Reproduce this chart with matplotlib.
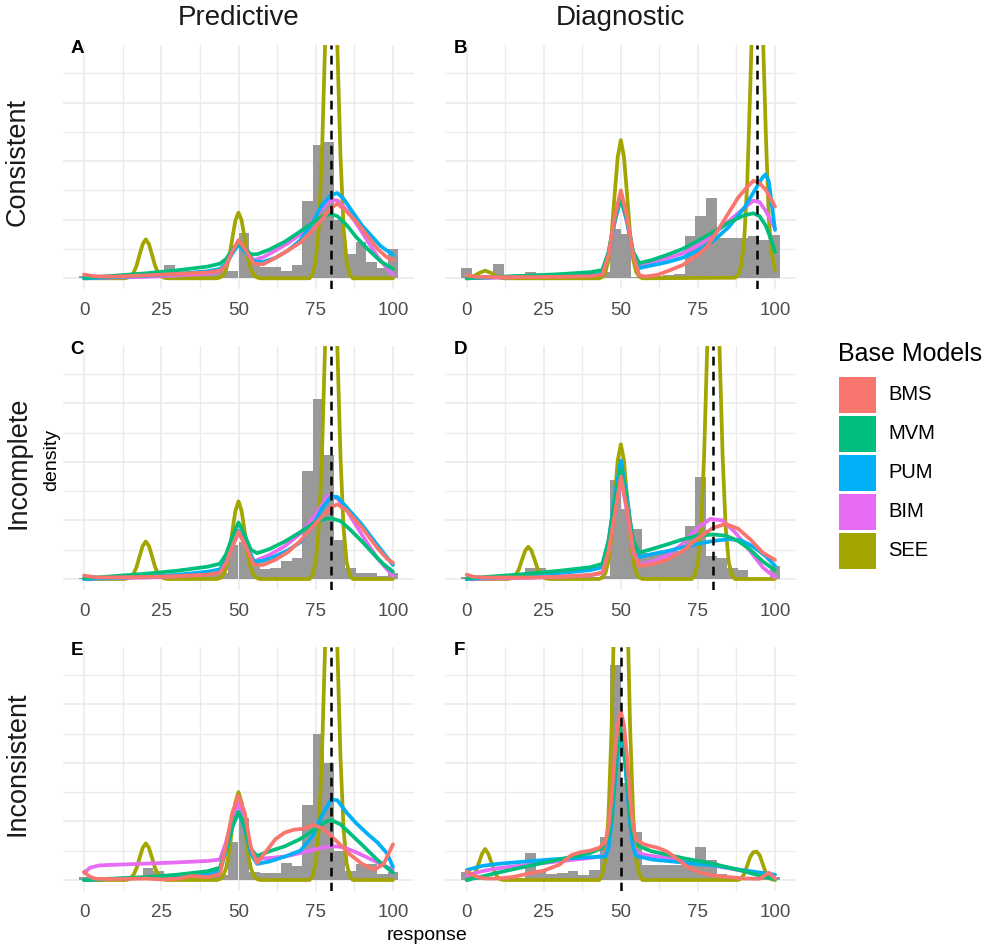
import matplotlib
matplotlib.use('Agg')
import matplotlib.pyplot as plt
from matplotlib.patches import Rectangle

plt.rcParams['font.family'] = ['Liberation Sans', 'DejaVu Sans']

# ---------------- data ----------------
models = ['BMS', 'MVM', 'PUM', 'BIM', 'SEE']
model_colors = ['#F8766D', '#00BF7D', '#00B0F6', '#E76BF3', '#A3A500']
col_titles = ['Predictive', 'Diagnostic']
row_titles = ['Consistent', 'Incomplete', 'Inconsistent']
panel_tags = ['A', 'B', 'C', 'D', 'E', 'F']
x_ticks = [0, 25, 50, 75, 100]
target_lines = [80, 94, 80, 80, 80, 50]

# histogram: 30 bins spanning 0..100 (bin centres at k*100/29)
n_bins = 30
A_hist = [0.08, 0.03, 0.03, 0.05, 0.05, 0.05, 0.10, 0.10, 0.45, 0.15, 0.20, 0.15, 0.20, 0.26, 0.26,
          1.56, 0.57, 0.40, 0.37, 0.26, 0.45, 2.64, 4.55, 4.66, 2.00, 0.83, 1.25, 0.57, 0.34, 0.99]
B_hist = [0.34, 0.12, 0.10, 0.48, 0.03, 0.05, 0.20, 0.05, 0.05, 0.05, 0.05, 0.05, 0.05, 0.20, 1.70,
          1.50, 0.05, 0.06, 0.08, 0.10, 0.15, 1.46, 2.13, 2.74, 1.37, 1.37, 1.37, 1.45, 1.30, 1.47]
C_hist = [0.05, 0.03, 0.03, 0.04, 0.04, 0.05, 0.05, 0.06, 0.06, 0.08, 0.08, 0.10, 0.12, 0.20, 1.15,
          1.25, 0.60, 0.34, 0.37, 0.62, 0.70, 3.70, 6.15, 4.23, 1.33, 0.37, 0.20, 0.20, 0.10, 0.22]
D_hist = [0.06, 0.04, 0.04, 0.04, 0.04, 0.05, 0.36, 0.36, 0.05, 0.05, 0.05, 0.06, 0.08, 0.10, 3.38,
          2.39, 1.70, 0.88, 0.90, 0.90, 0.95, 1.80, 3.47, 0.80, 0.73, 0.38, 0.30, 0.03, 0.05, 0.46]
E_hist = [0.10, 0.04, 0.04, 0.05, 0.05, 0.10, 0.40, 0.30, 0.08, 0.08, 0.10, 0.10, 0.17, 0.17, 1.30,
          2.10, 0.28, 0.25, 0.23, 0.57, 0.49, 2.56, 5.00, 4.00, 0.98, 0.30, 0.53, 0.53, 0.20, 0.26]
F_hist = [0.26, 0.11, 0.05, 0.05, 0.05, 0.06, 0.93, 0.30, 0.19, 0.25, 0.30, 0.17, 0.34, 1.48, 7.35,
          3.30, 1.63, 0.50, 0.50, 0.50, 0.50, 0.62, 1.14, 0.68, 0.20, 0.15, 0.10, 0.10, 0.10, 0.11]

# density curves: (response, density) points
A_BMS = [(0,0.13),(2,0.09),(5,0.06),(10,0.06),(20,0.10),(30,0.15),(40,0.20),(44,0.26),(46,0.45),(48,0.92),(50,1.30),
         (52,1.02),(55,0.50),(58,0.48),(62,0.70),(66,0.95),(70,1.22),(75,1.75),(78,2.15),(80,2.40),(82,2.55),(85,2.28),
         (88,1.95),(91,1.55),(95,1.00),(98,0.72),(100,0.62)]
A_MVM = [(0,0.02),(5,0.05),(10,0.09),(20,0.17),(30,0.27),(40,0.40),(44,0.50),(46,0.66),(48,0.98),(50,1.20),(52,1.02),
         (54,0.82),(56,0.82),(60,0.98),(65,1.25),(70,1.60),(75,1.98),(78,2.15),(80,2.19),(82,2.12),(85,1.82),(88,1.42),
         (92,0.98),(96,0.58),(100,0.32)]
A_PUM = [(0,0.0),(10,0.04),(20,0.09),(30,0.15),(40,0.24),(44,0.32),(46,0.50),(48,0.85),(50,1.15),(52,0.92),(55,0.58),
         (58,0.56),(62,0.70),(66,0.95),(70,1.30),(74,1.90),(77,2.50),(80,2.85),(82,2.91),(84,2.72),(87,2.25),(90,1.80),
         (93,1.45),(96,1.10),(100,0.80)]
A_BIM = [(0,0.0),(10,0.03),(20,0.05),(30,0.10),(40,0.16),(44,0.24),(46,0.45),(48,0.90),(50,1.20),(52,0.95),(55,0.62),
         (58,0.72),(62,0.95),(66,1.20),(70,1.50),(75,2.10),(78,2.50),(80,2.67),(82,2.66),(85,2.33),(88,1.90),(91,1.40),
         (95,0.74),(98,0.35),(100,0.12)]
A_SEE = [(0,0),(13,0),(14,0.02),(15,0.06),(16,0.18),(17,0.43),(18,0.81),(19,1.17),(20,1.33),(21,1.17),(22,0.81),
         (23,0.43),(24,0.18),(25,0.06),(26,0.02),(27,0),(43,0),(44,0.03),(45,0.10),(46,0.30),(47,0.73),(48,1.36),
         (49,1.98),(50,2.24),(51,1.98),(52,1.36),(53,0.73),(54,0.30),(55,0.10),(56,0.03),(57,0),(73,0),(74,0.14),
         (75,0.57),(76,1.75),(77,4.2),(78,7.9),(79,11.4),(80,13),(81,11.4),(82,7.9),(83,4.2),(84,1.75),(85,0.57),
         (86,0.14),(87,0),(100,0)]

B_BMS = [(0,0.10),(3,0.05),(10,0.04),(20,0.04),(30,0.05),(40,0.07),(44,0.12),(46,0.8),(48,2.1),(50,3.0),(52,2.1),
         (54,0.8),(56,0.10),(58,0.06),(62,0.12),(66,0.28),(70,0.45),(75,0.80),(78,1.08),(83,1.90),(88,2.75),(91,3.12),
         (93,3.33),(95,3.25),(97,3.02),(99,2.65),(100,2.45)]
B_MVM = [(0,0.0),(5,0.03),(10,0.05),(20,0.09),(30,0.14),(40,0.21),(44,0.28),(46,0.9),(48,2.0),(50,2.78),(52,2.0),
         (54,0.9),(56,0.52),(60,0.62),(65,0.80),(70,1.00),(75,1.28),(80,1.58),(85,1.90),(90,2.15),(93,2.22),(95,2.12),
         (97,1.80),(99,1.25),(100,0.90)]
B_PUM = [(0,0.0),(10,0.04),(20,0.08),(30,0.12),(40,0.18),(44,0.24),(46,0.85),(48,1.95),(50,2.75),(52,1.95),(54,0.85),
         (56,0.35),(60,0.44),(65,0.55),(70,0.70),(75,0.95),(80,1.28),(85,1.75),(90,2.40),(94,3.10),(96,3.45),(97,3.55),
         (98,3.30),(99,2.50),(100,1.65)]
B_BIM = [(0,0.0),(10,0.02),(20,0.05),(30,0.08),(40,0.14),(44,0.20),(46,0.8),(48,1.9),(50,2.75),(52,1.9),(54,0.8),
         (56,0.42),(60,0.55),(65,0.68),(70,0.85),(75,1.12),(80,1.50),(85,1.95),(90,2.40),(93,2.65),(95,2.60),(97,2.30),
         (99,1.90),(100,1.70)]
B_SEE = [(0,0.02),(2,0.05),(4,0.18),(6,0.26),(8,0.18),(10,0.04),(12,0),(43,0),(44,0.05),(45,0.21),(46,0.64),
         (47,1.51),(48,2.88),(49,4.15),(50,4.72),(51,4.15),(52,2.88),(53,1.51),(54,0.64),(55,0.21),(56,0.05),(57,0),
         (87,0.02),(88,0.10),(89,0.40),(90,1.3),(91,3.3),(92,6.6),(93,10.5),(94,13),(95,11.5),(96,8.6),(97,5.0),
         (98,2.0),(99,0.8),(100,0.28)]

C_BMS = [(0,0.12),(2,0.08),(5,0.05),(20,0.07),(30,0.10),(40,0.15),(44,0.22),(46,0.55),(48,1.10),(50,1.62),(52,1.20),
         (55,0.48),(58,0.48),(62,0.66),(66,0.92),(70,1.30),(75,1.90),(80,2.45),(82,2.55),(85,2.35),(90,1.75),(95,1.05),
         (98,0.70),(100,0.55)]
C_MVM = [(0,0.03),(5,0.06),(10,0.10),(20,0.18),(30,0.28),(40,0.42),(44,0.52),(46,0.85),(48,1.45),(50,1.93),(52,1.50),
         (54,1.00),(56,0.88),(60,1.02),(65,1.28),(70,1.60),(75,1.95),(78,2.05),(80,2.07),(83,1.98),(86,1.70),(90,1.28),
         (94,0.82),(97,0.50),(100,0.25)]
C_PUM = [(0,0.0),(10,0.04),(20,0.08),(30,0.14),(40,0.25),(44,0.33),(46,0.70),(48,1.20),(50,1.65),(52,1.30),(55,0.60),
         (58,0.62),(62,0.78),(66,0.98),(70,1.25),(74,1.80),(77,2.40),(80,2.82),(82,2.80),(85,2.45),(90,1.85),(95,1.15),
         (98,0.75),(100,0.48)]
C_BIM = [(0,0.0),(10,0.03),(20,0.05),(30,0.09),(40,0.16),(44,0.24),(46,0.55),(48,1.10),(50,1.60),(52,1.20),(55,0.60),
         (60,0.82),(65,1.12),(70,1.55),(75,2.20),(79,2.85),(82,2.75),(85,2.35),(90,1.50),(95,0.70),(100,0.10)]
C_SEE = [(0,0),(13,0),(14,0.02),(15,0.06),(16,0.17),(17,0.41),(18,0.78),(19,1.13),(20,1.28),(21,1.13),(22,0.78),
         (23,0.41),(24,0.17),(25,0.06),(26,0.02),(27,0),(43,0),(44,0.03),(45,0.12),(46,0.36),(47,0.85),(48,1.62),
         (49,2.33),(50,2.65),(51,2.33),(52,1.62),(53,0.85),(54,0.36),(55,0.12),(56,0.03),(57,0),(73,0),(74,0.14),
         (75,0.57),(76,1.75),(77,4.2),(78,7.9),(79,11.4),(80,13),(81,11.4),(82,7.9),(83,4.2),(84,1.75),(85,0.57),
         (86,0.14),(87,0),(100,0)]

D_BMS = [(0,0.15),(2,0.08),(5,0.05),(20,0.05),(30,0.08),(40,0.14),(44,0.22),(46,0.95),(48,2.20),(50,3.50),(52,2.40),
         (54,1.00),(56,0.45),(60,0.50),(65,0.65),(70,0.95),(75,1.40),(80,1.75),(84,1.88),(88,1.72),(92,1.35),(96,0.90),
         (100,0.65)]
D_MVM = [(0,0.03),(5,0.06),(10,0.10),(20,0.18),(30,0.28),(40,0.40),(44,0.52),(46,1.30),(48,2.60),(50,3.75),(52,2.60),
         (54,1.30),(56,0.90),(60,1.02),(65,1.18),(70,1.35),(75,1.48),(80,1.52),(84,1.48),(88,1.30),(92,1.00),(96,0.60),
         (100,0.30)]
D_PUM = [(0,0.0),(10,0.06),(20,0.12),(30,0.20),(40,0.30),(44,0.40),(46,1.30),(48,2.80),(50,4.05),(52,2.80),(54,1.20),
         (56,0.75),(60,0.85),(65,0.95),(70,1.08),(75,1.20),(80,1.30),(85,1.36),(89,1.32),(93,1.10),(97,0.78),(100,0.45)]
D_BIM = [(0,0.0),(10,0.02),(20,0.04),(30,0.07),(40,0.12),(44,0.20),(46,1.00),(48,2.30),(50,3.45),(52,2.30),(54,0.90),
         (56,0.50),(60,0.58),(65,0.80),(70,1.20),(75,1.75),(79,2.05),(83,2.00),(87,1.60),(92,0.95),(96,0.40),(100,0.05)]
D_SEE = [(0,0),(13,0),(14,0.01),(15,0.05),(16,0.15),(17,0.35),(18,0.67),(19,0.97),(20,1.10),(21,0.97),(22,0.67),
         (23,0.35),(24,0.15),(25,0.05),(26,0.01),(27,0),(43,0),(44,0.05),(45,0.20),(46,0.62),(47,1.47),(48,2.80),
         (49,4.05),(50,4.60),(51,4.05),(52,2.80),(53,1.47),(54,0.62),(55,0.20),(56,0.05),(57,0),(73,0),(74,0.14),
         (75,0.57),(76,1.75),(77,4.2),(78,7.9),(79,11.4),(80,13),(81,11.4),(82,7.9),(83,4.2),(84,1.75),(85,0.57),
         (86,0.14),(87,0),(100,0)]

E_BMS = [(0,0.28),(2,0.10),(4,0.04),(10,0.03),(20,0.05),(25,0.02),(30,0.04),(35,0.14),(40,0.10),(44,0.20),(46,1.20),
         (48,2.30),(50,2.88),(52,2.30),(54,1.10),(56,0.58),(58,0.85),(62,1.40),(65,1.62),(68,1.72),(71,1.75),(74,1.88),
         (77,1.78),(80,1.50),(83,1.20),(86,0.88),(90,0.55),(94,0.35),(97,0.55),(100,1.22)]
E_MVM = [(0,0.0),(5,0.03),(10,0.05),(20,0.10),(30,0.18),(40,0.30),(44,0.42),(46,1.10),(48,1.85),(50,2.33),(52,1.85),
         (54,1.05),(56,0.82),(60,0.98),(65,1.15),(70,1.40),(75,1.75),(78,1.98),(80,2.05),(83,1.90),(86,1.60),(90,1.20),
         (95,0.68),(100,0.25)]
E_PUM = [(0,0.0),(10,0.04),(20,0.08),(30,0.13),(40,0.20),(44,0.30),(46,1.00),(48,1.80),(50,2.30),(52,1.80),(54,0.90),
         (56,0.55),(60,0.63),(65,0.80),(70,1.00),(74,1.50),(77,2.20),(80,2.75),(82,2.72),(85,2.30),(88,1.95),(92,1.55),
         (95,1.28),(98,0.92),(100,0.45)]
E_BIM = [(0,0.25),(2,0.42),(5,0.50),(10,0.52),(20,0.56),(30,0.60),(40,0.65),(44,0.70),(46,1.30),(48,2.10),(50,2.60),
         (52,2.10),(54,1.10),(56,0.72),(60,0.75),(65,0.80),(70,0.92),(75,1.05),(80,1.16),(84,1.12),(88,0.95),(92,0.75),
         (96,0.55),(100,0.35)]
E_SEE = [(0,0),(13,0),(14,0.01),(15,0.06),(16,0.17),(17,0.40),(18,0.76),(19,1.10),(20,1.25),(21,1.10),(22,0.76),
         (23,0.40),(24,0.17),(25,0.06),(26,0.01),(27,0),(43,0),(44,0.03),(45,0.13),(46,0.41),(47,0.96),(48,1.82),
         (49,2.65),(50,3.00),(51,2.65),(52,1.82),(53,0.96),(54,0.41),(55,0.13),(56,0.03),(57,0),(73,0),(74,0.14),
         (75,0.57),(76,1.75),(77,4.2),(78,7.9),(79,11.4),(80,13),(81,11.4),(82,7.9),(83,4.2),(84,1.75),(85,0.57),
         (86,0.14),(87,0),(100,0)]

F_BMS = [(0,0.30),(3,0.12),(6,0.05),(10,0.05),(15,0.10),(20,0.22),(25,0.32),(30,0.52),(34,0.85),(37,0.95),(40,1.00),
         (43,1.10),(45,1.30),(46,1.80),(47,2.80),(48,4.20),(49,5.30),(50,5.75),(51,5.30),(52,4.20),(53,2.80),(54,1.80),
         (55,1.35),(58,1.20),(62,1.10),(65,0.97),(68,0.74),(72,0.42),(76,0.25),(80,0.15),(85,0.10),(90,0.05),(95,0.04),
         (98,0.25),(100,0.05)]
F_MVM = [(0,0.0),(5,0.12),(10,0.25),(20,0.48),(30,0.70),(40,0.92),(44,1.10),(46,1.50),(47,2.20),(48,3.50),(49,4.70),
         (50,5.20),(51,4.70),(52,3.50),(53,2.20),(54,1.50),(56,1.15),(60,0.98),(70,0.75),(80,0.55),(90,0.30),(96,0.12),
         (100,0.03)]
F_PUM = [(0,0.34),(5,0.48),(10,0.55),(20,0.64),(30,0.72),(40,0.78),(45,0.80),(46,1.10),(47,1.90),(48,3.20),(49,4.40),
         (50,4.90),(51,4.40),(52,3.20),(53,1.90),(54,1.10),(55,0.82),(60,0.70),(70,0.60),(80,0.50),(90,0.33),(100,0.18)]
F_BIM = [(0,0.15),(5,0.30),(10,0.40),(20,0.52),(30,0.64),(40,0.75),(45,0.85),(46,1.20),(47,2.00),(48,3.30),(49,4.50),
         (50,5.00),(51,4.50),(52,3.30),(53,2.00),(54,1.20),(55,0.92),(60,0.82),(70,0.70),(80,0.50),(90,0.30),(100,0.05)]
F_SEE = [(0,0),(1,0.02),(2,0.10),(3,0.30),(4,0.60),(5,0.90),(6,1.06),(7,0.90),(8,0.60),(9,0.30),(10,0.10),(11,0.02),
         (12,0),(43,0),(44,0.20),(45,0.72),(46,2.2),(47,5.2),(48,9.8),(49,14.2),(50,16),(51,14.2),(52,9.8),(53,5.2),
         (54,2.2),(55,0.72),(56,0.20),(57,0),(88,0),(89,0.05),(90,0.20),(91,0.50),(92,0.80),(93,0.95),(94,0.97),
         (95,0.85),(96,0.55),(97,0.25),(98,0.08),(99,0.02),(100,0)]

hists = [A_hist, B_hist, C_hist, D_hist, E_hist, F_hist]
curves = [
    [A_BMS, A_MVM, A_PUM, A_BIM, A_SEE],
    [B_BMS, B_MVM, B_PUM, B_BIM, B_SEE],
    [C_BMS, C_MVM, C_PUM, C_BIM, C_SEE],
    [D_BMS, D_MVM, D_PUM, D_BIM, D_SEE],
    [E_BMS, E_MVM, E_PUM, E_BIM, E_SEE],
    [F_BMS, F_MVM, F_PUM, F_BIM, F_SEE],
]

# ---------------- layout ----------------
W, H = 991, 948
fig = plt.figure(figsize=(W / 100, H / 100), dpi=100)

col_px = [(62.7, 414.3), (445.4, 796.3)]
row_base = [278.3, 579.0, 880.0]
unit_px = 29.29
y_lo, y_hi = -0.38, 7.96
bin_w = 100 / (n_bins - 1)
bin_centers = [k * bin_w for k in range(n_bins)]

TXT = '#4D4D4D'
GRID = '#EBEBEB'

for i in range(6):
    r, c = divmod(i, 2)
    left, right = col_px[c]
    top = row_base[r] - y_hi * unit_px
    bottom = row_base[r] - y_lo * unit_px
    ax = fig.add_axes([left / W, 1 - bottom / H, (right - left) / W, (bottom - top) / H])
    ax.set_xlim(-6.9, 106.9)
    ax.set_ylim(y_lo, y_hi)
    for s in ax.spines.values():
        s.set_visible(False)
    ax.set_xticks(x_ticks)
    ax.set_xticklabels([str(t) for t in x_ticks])
    ax.set_xticks([12.5, 37.5, 62.5, 87.5], minor=True)
    ax.set_yticks([0, 2, 4, 6])
    ax.set_yticks([1, 3, 5, 7], minor=True)
    ax.set_yticklabels([])
    ax.tick_params(which='both', length=0)
    ax.tick_params(axis='x', labelsize=13.5, labelcolor=TXT, pad=9)
    ax.grid(which='major', color=GRID, lw=1.2)
    ax.grid(which='minor', color=GRID, lw=1.0)
    ax.set_axisbelow(True)

    ax.bar(bin_centers, hists[i], width=bin_w, color='#999999', edgecolor='none', zorder=2)

    for m in [4, 3, 2, 1, 0]:
        pts = curves[i][m]
        ax.plot([p[0] for p in pts], [p[1] for p in pts], color=model_colors[m], lw=2.7,
                solid_joinstyle='round', solid_capstyle='round', zorder=3)

    ax.axvline(target_lines[i], color='black', lw=1.8, ls=(0, (3.5, 2.5)), zorder=4)

    fig.text((left + 8) / W, 1 - (top - 5) / H, panel_tags[i], ha='left', va='top',
             fontsize=13.5, fontweight='bold', color='black')

# column titles
for c in range(2):
    cx = (col_px[c][0] + col_px[c][1]) / 2
    fig.text(cx / W, 1 - 18 / H, col_titles[c], ha='center', va='center', fontsize=20, color='#1A1A1A')

# row titles
for r in range(3):
    top = row_base[r] - y_hi * unit_px
    bottom = row_base[r] - y_lo * unit_px
    cy = (top + bottom) / 2
    fig.text(18 / W, 1 - (cy - 5) / H, row_titles[r], ha='center', va='center', rotation=90,
             fontsize=19.5, color='#1A1A1A')

# axis titles
fig.text(52 / W, 1 - 460 / H, 'density', ha='center', va='center', rotation=90, fontsize=14, color='black')
fig.text(427 / W, 1 - 936 / H, 'response', ha='center', va='center', fontsize=14, color='black')

# legend
fig.text(838 / W, 1 - 354 / H, 'Base Models', ha='left', va='center', fontsize=18, color='black')
key_top0, key_step, key_h = 377, 39, 35.5
for m in range(5):
    kt = key_top0 + m * key_step
    fig.patches.append(Rectangle((839 / W, 1 - (kt + key_h) / H), 37 / W, key_h / H,
                                 transform=fig.transFigure, facecolor=model_colors[m], edgecolor='none'))
    fig.text(888 / W, 1 - (kt + key_h / 2) / H, models[m], ha='left', va='center', fontsize=14.5, color='black')

fig.savefig('out.png', dpi=100)
